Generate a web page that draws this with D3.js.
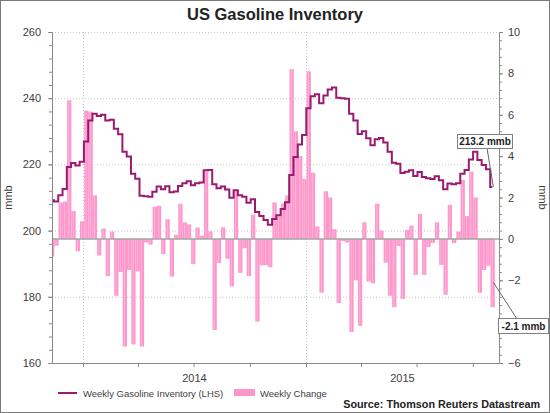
<!DOCTYPE html>
<html><head><meta charset="utf-8">
<script src="https://cdn.jsdelivr.net/npm/d3@7"></script>
<style>
body{margin:0;background:#fff}
svg{display:block}
text{font-family:"Liberation Sans",Arial,sans-serif}
</style>
</head><body>
<svg id="c" width="550" height="413"></svg>
<script>
// Weekly gasoline inventory (mmb, LHS) and weekly change (mmb, RHS)
const firstWeekEnd = "2013-11-15";
const inventory = [
209.2,208.8,210.7,212.6,219.2,220.4,219.7,220.8,226.9,233.3,
235.3,234.6,235.0,233.3,233.5,230.8,229.1,223.8,222.4,217.2,
215.7,210.5,210.4,210.2,211.7,213.3,212.5,213.4,211.6,211.8,
213.5,214.3,214.9,213.7,214.3,214.5,218.2,218.3,214.0,212.8,
213.3,212.4,209.9,212.2,210.7,210.2,208.4,209.5,205.6,204.4,
203.2,201.8,203.5,204.6,206.5,208.6,216.8,222.2,226.0,228.9,
237.0,240.6,241.2,238.5,240.8,242.6,243.2,240.1,240.0,239.8,
235.3,233.3,229.2,230.0,227.9,225.8,227.6,228.0,226.6,223.8,
220.5,220.2,217.4,217.8,218.2,216.5,217.7,216.2,215.8,215.6,
216.4,215.2,212.5,214.2,214.0,214.3,217.2,218.3,221.5,223.8,
221.3,219.8,218.5,213.2];
const weeklyChange = [
-0.85,-0.33,1.75,1.8,6.7,1.35,-0.6,0.85,6.2,6.15,
2.1,-0.8,0.5,-1.8,0.35,-2.75,-1.6,-5.2,-1.5,-5.1,
-1.57,-5.2,-0.17,-0.28,1.56,1.6,-0.74,0.95,-1.82,0.2,
1.7,0.8,0.7,-1.22,0.55,0.15,3.25,0.36,-4.4,-1.16,
0.56,-0.96,-2.3,2.3,-1.64,-0.45,-1.8,1.17,-4.0,-1.28,
-1.27,-1.37,1.76,1.08,1.7,2.1,8.2,5.2,4.0,2.9,
8.1,3.2,0.6,-2.6,2.3,2.0,0.47,-3.1,-0.1,-0.18,
-4.5,-2.0,-4.2,0.8,-2.06,-2.15,1.7,0.4,-1.15,-2.75,
-3.3,-0.35,-2.9,0.43,0.64,-1.74,1.2,-1.74,-0.4,-0.2,
0.8,-1.26,-2.7,1.64,-0.2,0.35,2.85,1.1,3.25,2.0,
-2.6,-1.5,-1.3,-3.3];
const leftTicks = [160,180,200,220,240,260];
const rightTicks = [-6,-4,-2,0,2,4,6,8,10];
const rightLabelled = [-6,-2,0,2,4,6,8,10]; // -4 is hidden behind the annotation box
const yearLabels = ["2014","2015"];
const titleText = "US Gasoline Inventory";
const legendLabels = ["Weekly Gasoline Inventory (LHS)","Weekly Change"];
const sourceText = "Source: Thomson Reuters Datastream";
const lastLevelLabel = "213.2 mmb";
const lastChangeLabel = "-2.1 mmb";
const lastChangeValue = -2.1;

const svg = d3.select("#c");
const W = 550, H = 413;
const L = 52, R = 499, T = 32, B = 363;
const lineCol = "#9a1b6e", barCol = "#fd96cb", axisCol = "#8a8a8a", txtCol = "#404040", gridCol = "#c9c9c9";

const parse = d3.timeParse("%Y-%m-%d");
const wEnd = weeklyChange.map((_, i) => d3.timeDay.offset(parse(firstWeekEnd), 7 * i));

// Time scale calibrated on year boundaries
const x = d3.scaleTime().domain([new Date(2014,0,1), new Date(2015,0,1)]).range([83, 306]);
const d0 = x.invert(L), d1 = x.invert(R);
const yL = d3.scaleLinear().domain([160, 260]).range([B, T]);
const yR = d3.scaleLinear().domain([-6, 10]).range([B, T]);

svg.append("rect").attr("x",0.5).attr("y",0.5).attr("width",W-1).attr("height",H-1)
  .attr("fill","#fff").attr("stroke","#7a7a7a");

svg.append("defs").append("clipPath").attr("id","plot").append("rect")
  .attr("x",L).attr("y",T-2).attr("width",R-L).attr("height",B-T+2);

// gridlines
const grid = svg.append("g");
grid.selectAll("line.h").data(leftTicks.filter(v => v > 160)).join("line")
  .attr("x1",L).attr("x2",R).attr("y1",d=>yL(d)+0.5).attr("y2",d=>yL(d)+0.5)
  .attr("stroke",gridCol).attr("stroke-dasharray","1,2");
const years = d3.timeYear.range(d3.timeYear.ceil(d0), d1);
grid.selectAll("line.v").data(years).join("line")
  .attr("y1",T).attr("y2",B).attr("x1",d=>Math.round(x(d))+0.5).attr("x2",d=>Math.round(x(d))+0.5)
  .attr("stroke",gridCol).attr("stroke-dasharray","1,2");

// bars
const plot = svg.append("g").attr("clip-path","url(#plot)");
plot.selectAll("rect.bar").data(weeklyChange).join("rect")
  .attr("x",(d,i)=>x(d3.timeDay.offset(wEnd[i],-7)))
  .attr("width",(d,i)=>x(wEnd[i]) - x(d3.timeDay.offset(wEnd[i],-7)))
  .attr("y",d=>Math.min(yR(d),yR(0)))
  .attr("height",d=>Math.abs(yR(d)-yR(0)))
  .attr("fill",barCol);
plot.selectAll("line.stripe").data(weeklyChange).join("line")
  .attr("x1",(d,i)=>x(d3.timeDay.offset(wEnd[i],-3.5))).attr("x2",(d,i)=>x(d3.timeDay.offset(wEnd[i],-3.5)))
  .attr("y1",d=>yR(d)).attr("y2",yR(0))
  .attr("stroke","#ffbfe0").attr("stroke-width",0.8);

// zero line
svg.append("line").attr("x1",L).attr("x2",R).attr("y1",yR(0)).attr("y2",yR(0))
  .attr("stroke","#a3a3a3").attr("stroke-width",1.5);

// inventory line
const mid = wEnd.map(d => d3.timeDay.offset(d, -3.5));
plot.append("path").datum(inventory)
  .attr("d", d3.line().x((d,i)=>x(mid[i])).y(d=>yL(d)).curve(d3.curveStep))
  .attr("fill","none").attr("stroke",lineCol).attr("stroke-width",2);

// axes
function styleAxis(g){
  g.select(".domain").remove();
  g.selectAll(".tick line").attr("stroke",axisCol);
  g.selectAll(".tick text").attr("fill",txtCol).attr("font-size",11)
    .attr("font-family","'Liberation Sans',Arial,sans-serif");
}
const minorL = d3.range(160, 260.1, 4);
const minorR = d3.range(-6, 10.01, 0.4);
svg.append("g").attr("transform",`translate(${L},0)`)
  .call(d3.axisLeft(yL).tickValues(minorL).tickSize(3).tickFormat("")).call(styleAxis);
svg.append("g").attr("transform",`translate(${L},0)`)
  .call(d3.axisLeft(yL).tickValues(leftTicks).tickSize(4).tickPadding(7)).call(styleAxis);
svg.append("g").attr("transform",`translate(${R},0)`)
  .call(d3.axisRight(yR).tickValues(minorR).tickSize(3).tickFormat("")).call(styleAxis);
svg.append("g").attr("transform",`translate(${R},0)`)
  .call(d3.axisRight(yR).tickValues(rightTicks).tickSize(4).tickPadding(5)
    .tickFormat(d => rightLabelled.includes(d) ? d3.format("d")(d) : "")).call(styleAxis);
const qTicks = d3.timeMonth.every(3).range(d0, d1);
svg.append("g").attr("transform",`translate(0,${B})`)
  .call(d3.axisBottom(x).tickValues(qTicks).tickSize(4).tickFormat("")).call(styleAxis);

// axis lines
svg.append("path").attr("d",`M${L+0.5},${T}V${B+0.5}H${R+0.5}V${T}`)
  .attr("fill","none").attr("stroke",axisCol);

// year labels centred on visible part of each year
const yearStarts = d3.timeYear.range(d3.timeYear.floor(d0), d1);
svg.selectAll("text.yr").data(yearStarts.filter(d=>yearLabels.includes(String(d.getFullYear())))).join("text")
  .attr("x",d=>(Math.max(L,x(d)) + Math.min(R,x(d3.timeYear.offset(d,1))))/2)
  .attr("y",382).attr("text-anchor","middle").attr("font-size",11).attr("fill",txtCol)
  .text(d=>String(d.getFullYear()));

// axis titles
svg.append("text").attr("transform","translate(12,197.5) rotate(-90)")
  .attr("text-anchor","middle").attr("font-size",11).attr("fill",txtCol).text("mmb");
svg.append("text").attr("transform","translate(539,197.5) rotate(90)")
  .attr("text-anchor","middle").attr("font-size",11).attr("fill",txtCol).text("mmb");

// title
svg.append("text").attr("x",275).attr("y",20).attr("text-anchor","middle")
  .attr("font-size",16.5).attr("font-weight","bold").attr("fill","#222").text(titleText);

// annotations
const lastX = x(mid[mid.length-1]);
const ann = svg.append("g");
ann.append("line").attr("x1",487).attr("y1",148).attr("x2",lastX+1).attr("y2",yL(inventory[inventory.length-1]))
  .attr("stroke","#666");
ann.append("rect").attr("x",457.5).attr("y",134.5).attr("width",55).attr("height",14)
  .attr("fill","#fff").attr("stroke","#808080");
ann.append("text").attr("x",485).attr("y",145).attr("text-anchor","middle")
  .attr("font-size",10).attr("font-weight","bold").attr("fill","#222").text(lastLevelLabel);
ann.append("line").attr("x1",lastX+1).attr("y1",yR(lastChangeValue)).attr("x2",517).attr("y2",319)
  .attr("stroke","#666");
ann.append("rect").attr("x",498.5).attr("y",318.5).attr("width",50).attr("height",15)
  .attr("fill","#fff").attr("stroke","#808080");
ann.append("text").attr("x",523.5).attr("y",330).attr("text-anchor","middle")
  .attr("font-size",10).attr("font-weight","bold").attr("fill","#222").text(lastChangeLabel);

// legend
const lg = svg.append("g");
lg.append("line").attr("x1",58).attr("x2",77).attr("y1",393).attr("y2",393).attr("stroke",lineCol).attr("stroke-width",2);
lg.append("text").attr("x",83).attr("y",397).attr("font-size",9.5).attr("fill",txtCol).text(legendLabels[0]);
lg.append("rect").attr("x",234).attr("y",389).attr("width",21).attr("height",7).attr("fill",barCol);
lg.append("text").attr("x",260).attr("y",397).attr("font-size",9.5).attr("fill",txtCol).text(legendLabels[1]);

// source
svg.append("text").attr("x",540).attr("y",408).attr("text-anchor","end")
  .attr("font-size",10.8).attr("font-weight","bold").attr("fill","#222").text(sourceText);
</script>
</body></html>
